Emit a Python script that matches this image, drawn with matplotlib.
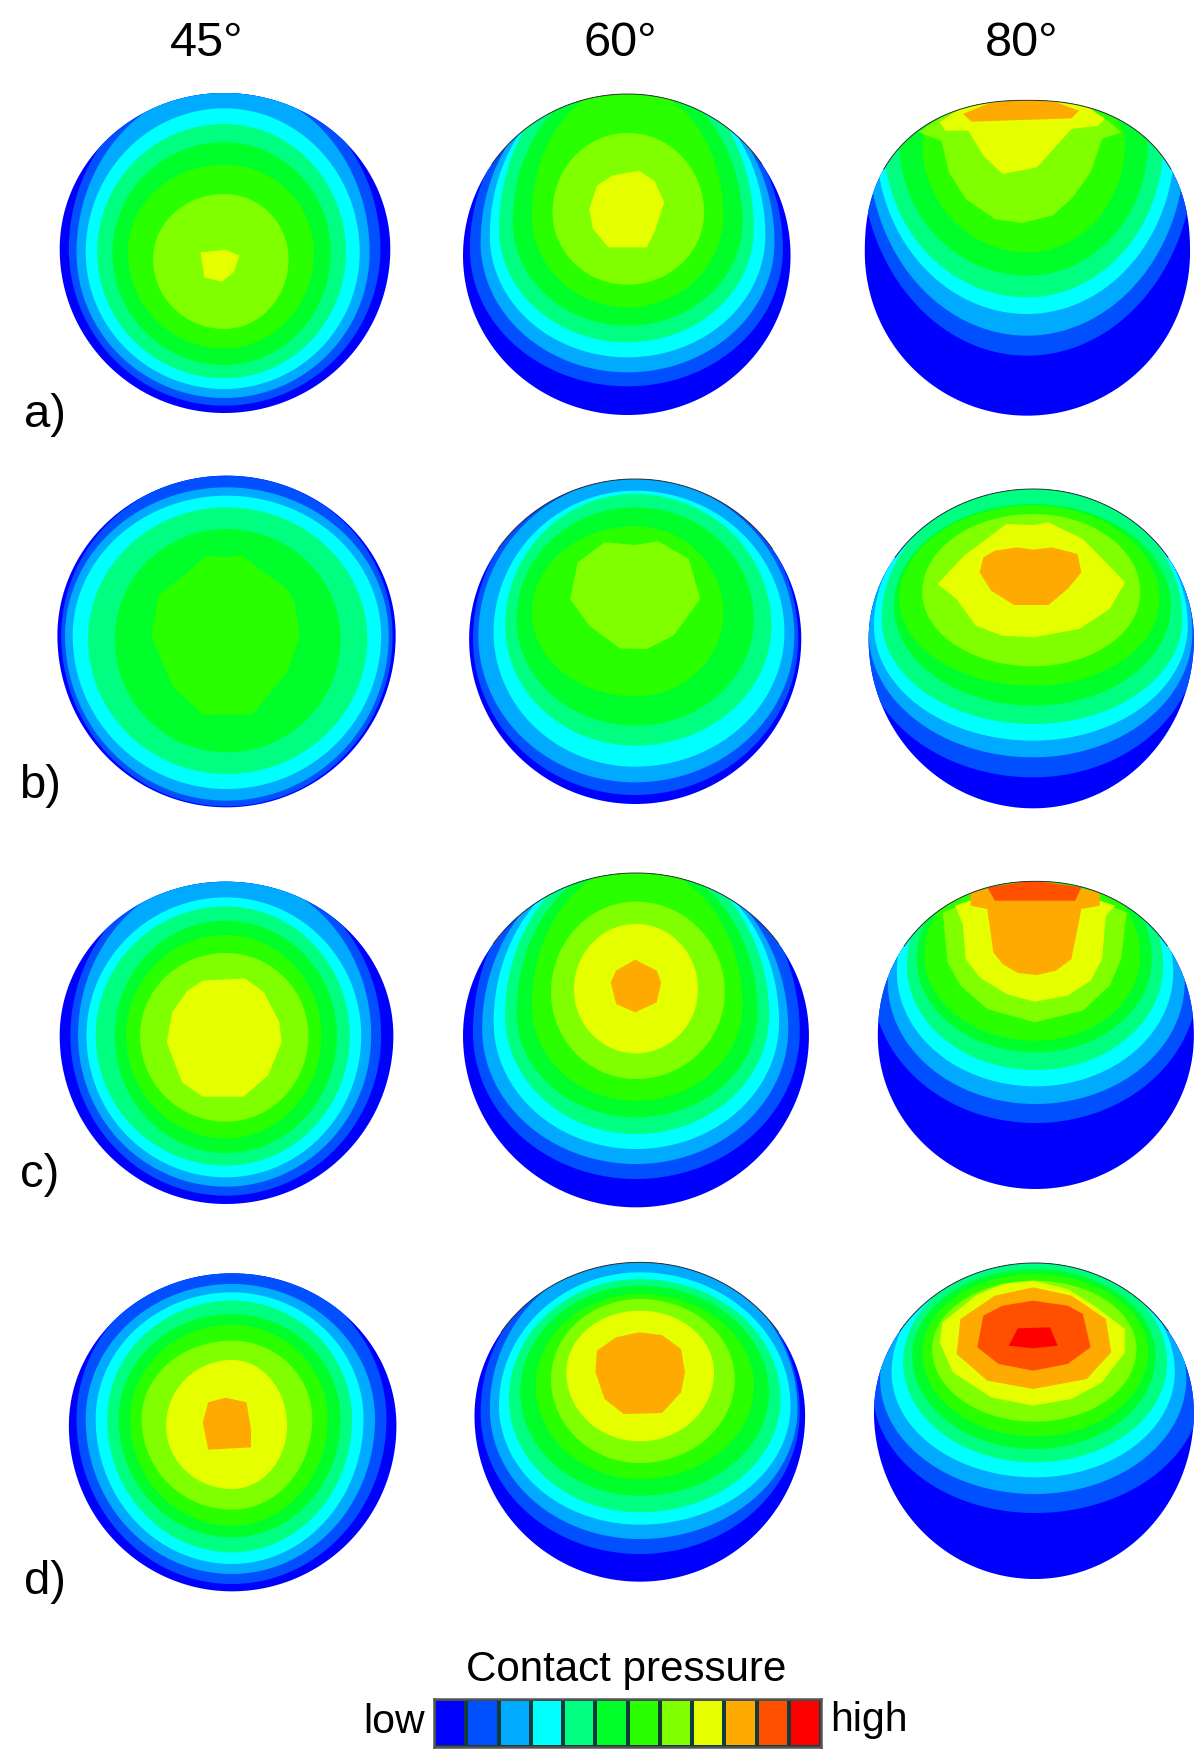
import numpy as np
import matplotlib
matplotlib.use("Agg")
import matplotlib.pyplot as plt
from matplotlib.colors import ListedColormap, BoundaryNorm
from matplotlib.patches import Polygon

plt.rcParams['font.family'] = ['Liberation Sans', 'DejaVu Sans']

LEVEL_COLORS = ['#0000ff', '#0050ff', '#00aaff', '#00ffff', '#00ff80', '#00ff2a',
                '#2aff00', '#80ff00', '#e6ff00', '#ffaa00', '#ff5000', '#ff0000']
COLUMN_LABELS = ['45°', '60°', '80°']
ROW_LABELS = ['a)', 'b)', 'c)', 'd)']
BAR_TITLE = 'Contact pressure'
BAR_LOW = 'low'
BAR_HIGH = 'high'

# Contours: (level, top, bottom, left, right, widest-at y)
# outline entries: (top, bottom, left, right, widest-at y, axis x, top roundness)
A1_OUT = (282, 1242, 78, 510, 750, 293, 2.0)
A1_BANDS = [(1, 240, 1220, 90, 497, 750), (2, 262, 1197, 100, 483, 760), (3, 328, 1170, 112, 470, 760),
            (4, 375, 1138, 127, 452, 760), (5, 430, 1098, 147, 432, 760), (6, 497, 1048, 167, 410, 760),
            (7, 585, 990, 200, 377, 780)]
A1_PEAKS = [(8, [262, 295, 313, 305, 290, 267], [760, 752, 770, 820, 848, 835])]

A2_OUT = (285, 1248, 605, 1033, 770, 820, 2.0)
A2_BANDS = [(1, 230, 1162, 614, 1023, 750), (2, 224, 1120, 628, 1012, 730), (3, 216, 1075, 640, 1000, 710),
            (4, 189, 1030, 652, 985, 690), (5, 233, 980, 670, 970, 670), (6, 261, 925, 695, 945, 650),
            (7, 402, 857, 722, 920, 640)]
A2_PEAKS = [(8, [800, 835, 855, 868, 855, 845, 795, 775, 770, 780],
             [530, 515, 545, 610, 700, 745, 745, 690, 630, 560])]

A3_OUT = (304, 1250, 1130, 1555, 760, 1342, 2.3)
A3_BANDS = [(1, 140, 1070, 1125, 1560, 470), (2, 160, 1010, 1135, 1548, 450), (3, 180, 945, 1145, 1535, 430),
            (4, 200, 895, 1155, 1520, 430), (5, 220, 830, 1175, 1500, 430), (6, 250, 760, 1205, 1470, 430)]
A3_PEAKS = [(7, [1200, 1230, 1240, 1262, 1300, 1335, 1375, 1400, 1425, 1440, 1465, 1440, 1350, 1240],
             [400, 425, 520, 600, 660, 672, 650, 600, 520, 420, 400, 350, 290, 340]),
            (8, [1228, 1235, 1265, 1285, 1310, 1355, 1400, 1435, 1443, 1420, 1350, 1260],
             [370, 395, 395, 470, 525, 505, 390, 380, 360, 320, 290, 320]),
            (9, [1258, 1270, 1400, 1410, 1380, 1330, 1290], [345, 368, 358, 335, 310, 300, 315])]

B1_OUT = (110, 1105, 75, 517, 590, 296, 2.0)
B1_BANDS = [(1, 108, 1102, 80, 513, 590), (2, 145, 1085, 85, 508, 590), (3, 170, 1050, 95, 498, 590),
            (4, 205, 1005, 115, 480, 600), (5, 270, 940, 150, 445, 600)]
B1_PEAKS = [(6, [270, 295, 315, 345, 375, 385, 392, 375, 330, 265, 225, 198, 207, 240],
             [350, 355, 348, 400, 450, 490, 590, 700, 825, 828, 740, 590, 470, 410])]

B2_OUT = (120, 1095, 613, 1047, 600, 830, 2.0)
B2_BANDS = [(1, 90, 1068, 618, 1043, 600), (2, 118, 1030, 625, 1038, 590), (3, 155, 983, 645, 1025, 580),
            (4, 165, 920, 660, 1008, 560), (5, 205, 860, 675, 985, 540), (6, 262, 772, 695, 945, 520)]
B2_PEAKS = [(7, [790, 830, 860, 900, 915, 880, 845, 810, 770, 745, 755],
             [310, 318, 307, 360, 480, 590, 630, 628, 560, 480, 370])]

B3_OUT = (150, 1108, 1135, 1560, 600, 1350, 2.0)
B3_BANDS = [(1, 100, 1015, 1125, 1565, 600), (2, 120, 955, 1135, 1558, 580), (3, 135, 905, 1142, 1552, 560),
            (4, 140, 855, 1152, 1545, 540), (5, 195, 800, 1168, 1530, 500), (6, 200, 740, 1175, 1515, 480),
            (7, 225, 682, 1205, 1490, 460)]
B3_PEAKS = [(8, [1315, 1350, 1370, 1415, 1445, 1470, 1450, 1410, 1350, 1310, 1275, 1250, 1225, 1260],
             [255, 258, 250, 300, 370, 430, 510, 570, 595, 590, 560, 480, 435, 350]),
            (9, [1300, 1330, 1350, 1375, 1408, 1413, 1395, 1370, 1325, 1295, 1280, 1285],
             [335, 325, 332, 325, 345, 400, 450, 498, 498, 455, 400, 355])]

C1_OUT = (98, 1065, 78, 514, 560, 295, 2.0)
C1_BANDS = [(1, 60, 1040, 92, 498, 560), (2, 75, 1013, 102, 485, 560), (3, 145, 985, 113, 472, 560),
            (4, 172, 950, 125, 457, 560), (5, 215, 912, 150, 440, 560), (6, 258, 868, 165, 420, 560),
            (7, 312, 818, 183, 403, 560)]
C1_PEAKS = [(8, [265, 320, 345, 365, 368, 350, 318, 265, 238, 218, 225, 245],
             [395, 388, 430, 520, 580, 680, 743, 743, 700, 580, 490, 425])]

C2_OUT = (72, 1075, 605, 1057, 560, 831, 2.0)
C2_BANDS = [(1, -17, 990, 618, 1045, 550), (2, 20, 945, 630, 1030, 540), (3, 17, 900, 645, 1018, 520),
            (4, 12, 855, 660, 1005, 500), (5, 33, 805, 675, 990, 490), (6, 51, 755, 695, 970, 470),
            (7, 158, 690, 720, 947, 430), (8, 225, 613, 750, 912, 420)]
C2_PEAKS = [(9, [830, 858, 864, 858, 830, 805, 798, 805], [332, 365, 400, 460, 490, 465, 400, 365])]

C3_OUT = (97, 1020, 1147, 1560, 560, 1353, 2.1)
C3_BANDS = [(1, -70, 822, 1140, 1565, 400), (2, -40, 765, 1160, 1548, 400), (3, -20, 712, 1172, 1533, 370),
            (4, 0, 663, 1185, 1520, 350), (5, 20, 610, 1198, 1505, 330), (6, 40, 575, 1208, 1490, 320)]
C3_PEAKS = [(7, [1232, 1238, 1255, 1290, 1352, 1415, 1450, 1465, 1472, 1350],
             [190, 340, 410, 480, 520, 485, 410, 330, 190, 85]),
            (8, [1248, 1258, 1262, 1280, 1315, 1352, 1395, 1425, 1440, 1445, 1457, 1350],
             [170, 225, 330, 385, 435, 458, 440, 395, 330, 200, 170, 90]),
            (9, [1268, 1268, 1290, 1298, 1310, 1330, 1355, 1380, 1400, 1413, 1437, 1437, 1350],
             [130, 170, 180, 310, 345, 372, 378, 365, 330, 180, 170, 130, 90]),
            (10, [1290, 1300, 1405, 1413, 1350], [115, 155, 155, 115, 95])]

D1_OUT = (103, 1057, 90, 518, 560, 303, 2.0)
D1_BANDS = [(1, 85, 1035, 100, 505, 540), (2, 135, 1005, 112, 490, 540), (3, 160, 975, 125, 475, 540),
            (4, 185, 940, 140, 460, 540), (5, 225, 895, 155, 445, 540), (6, 258, 860, 170, 428, 540),
            (7, 305, 812, 185, 408, 540), (8, 363, 750, 217, 375, 560)]
D1_PEAKS = [(9, [272, 295, 322, 328, 328, 272, 265], [490, 476, 490, 570, 625, 632, 550])]

D2_OUT = (70, 1028, 620, 1052, 530, 836, 2.0)
D2_BANDS = [(1, 40, 945, 628, 1045, 520), (2, 50, 900, 640, 1042, 510), (3, 100, 857, 652, 1033, 500),
            (4, 120, 820, 665, 1020, 480), (5, 140, 770, 680, 1005, 460), (6, 165, 720, 700, 985, 440),
            (7, 180, 672, 720, 960, 420), (8, 215, 607, 740, 933, 400)]
D2_PEAKS = [(9, [835, 865, 890, 895, 890, 865, 815, 790, 778, 780, 805],
             [280, 288, 330, 400, 460, 522, 525, 480, 400, 335, 295])]

D3_OUT = (72, 1020, 1142, 1560, 520, 1352, 2.0)
D3_BANDS = [(1, 10, 822, 1140, 1570, 450), (2, 30, 765, 1150, 1550, 420), (3, 50, 715, 1165, 1535, 400),
            (4, 65, 670, 1180, 1525, 370), (5, 90, 630, 1192, 1510, 350), (6, 105, 592, 1205, 1500, 340),
            (7, 125, 548, 1218, 1485, 330)]
D3_PEAKS = [(8, [1350, 1395, 1430, 1470, 1470, 1440, 1400, 1350, 1295, 1245, 1228, 1232, 1275, 1310],
             [125, 150, 200, 270, 340, 430, 480, 500, 475, 400, 310, 250, 170, 135]),
            (9, [1350, 1400, 1445, 1452, 1420, 1350, 1290, 1250, 1255, 1300],
             [145, 170, 240, 340, 420, 450, 425, 345, 240, 170]),
            (10, [1350, 1395, 1415, 1425, 1395, 1350, 1305, 1277, 1285, 1310],
             [185, 200, 225, 325, 375, 395, 375, 325, 230, 200]),
            (11, [1330, 1372, 1382, 1350, 1318], [268, 265, 320, 328, 320])]

# Rows: panels and the reference pixel span (top, height) their numbers were read in
ROWS = [((0, 440), [(A1_OUT, A1_BANDS, A1_PEAKS, False), (A2_OUT, A2_BANDS, A2_PEAKS, True), (A3_OUT, A3_BANDS, A3_PEAKS, True)]),
        ((440, 400), [(B1_OUT, B1_BANDS, B1_PEAKS, False), (B2_OUT, B2_BANDS, B2_PEAKS, True), (B3_OUT, B3_BANDS, B3_PEAKS, True)]),
        ((850, 370), [(C1_OUT, C1_BANDS, C1_PEAKS, False), (C2_OUT, C2_BANDS, C2_PEAKS, True), (C3_OUT, C3_BANDS, C3_PEAKS, True)]),
        ((1240, 370), [(D1_OUT, D1_BANDS, D1_PEAKS, False), (D2_OUT, D2_BANDS, D2_PEAKS, True), (D3_OUT, D3_BANDS, D3_PEAKS, True)])]

W, H = 1200, 1756
fig = plt.figure(figsize=(W / 100, H / 100), dpi=100, facecolor='white')


def contour(top, bottom, left, right, waist, cx, n=2.0):
    """Closed curve through the four extents, made of four rounded quadrants."""
    t = np.linspace(0, 2 * np.pi, 241)
    c, s = np.cos(t), np.sin(t)
    exp = np.where(s < 0, 2.0 / n, 1.0)
    cs = np.sign(c) * np.abs(c) ** exp
    ss = np.sign(s) * np.abs(s) ** exp
    x = cx + np.where(c >= 0, right - cx, cx - left) * cs
    y = waist + np.where(s >= 0, bottom - waist, waist - top) * ss
    return np.column_stack([x, y])


for (y0, h), panels in ROWS:
    ax = fig.add_axes([0, 1 - (y0 + h) / H, 1, h / H])
    ax.set_xlim(0, 1568)
    ax.set_ylim(3 * h, 0)
    ax.axis('off')
    for out, bands, peaks, edged in panels:
        top, bottom, left, right, waist, cx, n = out
        shape = contour(top, bottom, left, right, waist, cx, n)
        base = Polygon(shape, closed=True, fc=LEVEL_COLORS[0], ec='none', zorder=1)
        ax.add_patch(base)
        z = 2
        for lev, t_, b_, l_, r_, w_ in bands:
            p = Polygon(contour(t_, b_, l_, r_, w_, cx), closed=True,
                        fc=LEVEL_COLORS[lev], ec='none', zorder=z)
            ax.add_patch(p)
            p.set_clip_path(base)
            z += 1
        for lev, xs, ys in peaks:
            p = Polygon(np.column_stack([xs, ys]), closed=True,
                        fc=LEVEL_COLORS[lev], ec='none', zorder=z)
            ax.add_patch(p)
            p.set_clip_path(base)
            z += 1
        if edged:
            arc = shape[shape[:, 1] < top + 0.22 * (bottom - top)]
            order = np.argsort(arc[:, 0])
            ax.plot(arc[order, 0], arc[order, 1], color='#333333', lw=0.7, zorder=z)


def put(x, y, s, size, ha='center'):
    fig.text(x / 1072, 1 - y / 1568, s, fontsize=size, ha=ha, va='center', color='black')


for x, s in zip([185, 554, 913], COLUMN_LABELS):
    put(x, 39, s, 35)
for (x, y), s in zip([(40, 371), (36, 702), (35, 1049), (40, 1413)], ROW_LABELS):
    put(x, y, s, 34)
put(559, 1491, BAR_TITLE, 30.3)
put(352, 1538, BAR_LOW, 29.5)
put(776, 1536, BAR_HIGH, 29.5)

cax = fig.add_axes([434 / W, 1 - 1748 / H, (821 - 434) / W, 48 / H])
levels = np.arange(len(LEVEL_COLORS))
cmap = ListedColormap(LEVEL_COLORS)
norm = BoundaryNorm(np.arange(len(LEVEL_COLORS) + 1) - 0.5, cmap.N)
cax.pcolormesh(np.arange(len(LEVEL_COLORS) + 1), [0, 1], levels[None, :], cmap=cmap, norm=norm,
               edgecolors='#123c3c', linewidth=1.6)
cax.set_xticks([])
cax.set_yticks([])
for sp in cax.spines.values():
    sp.set_color('#555555')
    sp.set_linewidth(1.8)

fig.savefig('out.png', dpi=100, facecolor='white')
